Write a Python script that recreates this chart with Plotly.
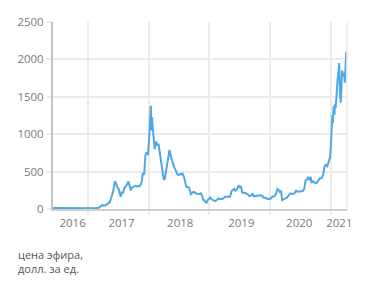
import plotly.graph_objects as go

dates = [
    "2016-06-05", "2016-07-15", "2016-08-20", "2016-09-25", "2016-10-30", "2016-12-05",
    "2017-01-10", "2017-02-10", "2017-03-08", "2017-03-16", "2017-03-25", "2017-04-15",
    "2017-04-30", "2017-05-12", "2017-05-25", "2017-06-02", "2017-06-12", "2017-06-20",
    "2017-06-28", "2017-07-05", "2017-07-12", "2017-07-17", "2017-07-24", "2017-07-31",
    "2017-08-08", "2017-08-15", "2017-08-25", "2017-09-01", "2017-09-08", "2017-09-15",
    "2017-09-22", "2017-10-01", "2017-10-12", "2017-10-20", "2017-11-01", "2017-11-10",
    "2017-11-20", "2017-11-27", "2017-12-05", "2017-12-12", "2017-12-20", "2017-12-28",
    "2018-01-04", "2018-01-10", "2018-01-14", "2018-01-17", "2018-01-21", "2018-01-26",
    "2018-02-02", "2018-02-06", "2018-02-14", "2018-02-22", "2018-03-01", "2018-03-08",
    "2018-03-15", "2018-03-22", "2018-03-29", "2018-04-03", "2018-04-08", "2018-04-15",
    "2018-04-22", "2018-04-28", "2018-05-06", "2018-05-12", "2018-05-20", "2018-05-26",
    "2018-06-03", "2018-06-10", "2018-06-17", "2018-06-24", "2018-07-01", "2018-07-10",
    "2018-07-17", "2018-07-24", "2018-08-01", "2018-08-08", "2018-08-15", "2018-08-22",
    "2018-08-29", "2018-09-05", "2018-09-12", "2018-09-19", "2018-09-26", "2018-10-03",
    "2018-10-10", "2018-10-20", "2018-11-01", "2018-11-10", "2018-11-18", "2018-11-25",
    "2018-12-02", "2018-12-09", "2018-12-15", "2018-12-22", "2018-12-29", "2019-01-06",
    "2019-01-13", "2019-01-20", "2019-01-27", "2019-02-05", "2019-02-15", "2019-02-25",
    "2019-03-05", "2019-03-15", "2019-03-25", "2019-04-05", "2019-04-15", "2019-04-25",
    "2019-05-05", "2019-05-15", "2019-05-22", "2019-05-30", "2019-06-06", "2019-06-14",
    "2019-06-22", "2019-06-27", "2019-07-03", "2019-07-10", "2019-07-17", "2019-07-24",
    "2019-08-01", "2019-08-10", "2019-08-20", "2019-08-30", "2019-09-08", "2019-09-18",
    "2019-09-25", "2019-10-05", "2019-10-15", "2019-10-25", "2019-11-05", "2019-11-15",
    "2019-11-22", "2019-12-01", "2019-12-10", "2019-12-18", "2019-12-28", "2020-01-05",
    "2020-01-15", "2020-01-25", "2020-02-05", "2020-02-14", "2020-02-20", "2020-02-28",
    "2020-03-07", "2020-03-13", "2020-03-20", "2020-03-27", "2020-04-05", "2020-04-15",
    "2020-04-25", "2020-05-05", "2020-05-15", "2020-05-25", "2020-06-05", "2020-06-15",
    "2020-06-25", "2020-07-05", "2020-07-15", "2020-07-24", "2020-08-01", "2020-08-10",
    "2020-08-17", "2020-08-25", "2020-09-01", "2020-09-05", "2020-09-15", "2020-09-25",
    "2020-10-05", "2020-10-15", "2020-10-25", "2020-11-05", "2020-11-15", "2020-11-22",
    "2020-11-29", "2020-12-10", "2020-12-20", "2020-12-27", "2021-01-03", "2021-01-09",
    "2021-01-12", "2021-01-17", "2021-01-22", "2021-01-25", "2021-01-29", "2021-02-04",
    "2021-02-10", "2021-02-14", "2021-02-19", "2021-02-23", "2021-02-26", "2021-02-28",
    "2021-03-04", "2021-03-08", "2021-03-12", "2021-03-16", "2021-03-20", "2021-03-25",
    "2021-03-30", "2021-04-02", "2021-04-07",
]

prices = [
    13, 12, 11, 12, 11, 8,
    9, 11, 16, 35, 50, 48,
    75, 90, 180, 240, 370, 340,
    280, 270, 200, 165, 230, 210,
    280, 300, 330, 370, 310, 250,
    285, 300, 310, 300, 300, 310,
    360, 480, 460, 720, 760, 720,
    950, 1200, 1380, 1050, 1230, 1080,
    900, 800, 900, 850, 870, 760,
    600, 540, 450, 390, 400, 500,
    620, 690, 790, 720, 650, 610,
    560, 530, 490, 460, 455, 470,
    460, 470, 430, 370, 300, 290,
    290, 260, 200, 210, 230, 225,
    210, 205, 200, 210, 175, 120,
    115, 90, 85, 120, 140, 155,
    130, 120, 110, 105, 120, 140,
    130, 135, 140, 165, 165, 160,
    165, 240, 250, 270, 245, 260,
    300, 310, 290, 300, 220, 215,
    220, 210, 195, 170, 180, 210,
    170, 175, 180, 180, 185, 180,
    150, 150, 145, 130, 130, 140,
    165, 170, 200, 270, 260, 225,
    235, 120, 130, 135, 145, 160,
    195, 210, 200, 205, 245, 230,
    230, 235, 240, 270, 380, 395,
    430, 385, 430, 350, 370, 350,
    345, 375, 410, 410, 460, 560,
    590, 570, 640, 700, 980, 1260,
    1150, 1380, 1260, 1400, 1350, 1650,
    1750, 1820, 1950, 1600, 1450, 1420,
    1580, 1850, 1820, 1800, 1810, 1690,
    1900, 2090, 2090,
]

year_label_pos = ["2016-10-01", "2017-07-22", "2018-07-10", "2019-07-12", "2020-06-24", "2021-02-20"]
year_labels = ["2016", "2017", "2018", "2019", "2020", "2021"]
y_ticks = [0, 500, 1000, 1500, 2000, 2500]

grid = "#ebebeb"
txt = "#7a7a7a"
font_family = "Open Sans, Lato, sans-serif"

fig = go.Figure(go.Scatter(
    x=dates, y=prices, mode="lines",
    line=dict(color="#4ea8e4", width=2),
    hoverinfo="skip",
))

fig.update_layout(
    width=371, height=288,
    margin=dict(l=53, r=24, t=22, b=79),
    paper_bgcolor="white", plot_bgcolor="white",
    showlegend=False,
    font=dict(family=font_family, color=txt, size=11),
    xaxis=dict(
        type="date",
        range=["2016-06-05", "2021-04-07"],
        tickvals=year_label_pos, ticktext=year_labels,
        showgrid=False, ticks="outside", ticklen=2, tickcolor="rgba(0,0,0,0)",
        tickfont=dict(size=11.5, color=txt),
        showline=True, linecolor="#cfcfcf", linewidth=2,
        minor=dict(dtick="M12", tick0="2016-01-01", showgrid=True, gridcolor=grid,
                   gridwidth=1.5, ticks="outside", ticklen=4, tickcolor=grid, tickwidth=1.5),
        zeroline=False, fixedrange=True,
    ),
    yaxis=dict(
        range=[0, 2500], tickvals=y_ticks,
        showgrid=True, gridcolor=grid, gridwidth=1.5,
        ticks="outside", ticklen=5, tickcolor=grid, tickwidth=1.5,
        tickfont=dict(size=11.5, color=txt),
        showline=True, linecolor="#c4c4c4", linewidth=2,
        zeroline=False, fixedrange=True,
    ),
    shapes=[dict(type="line", xref="paper", yref="paper", x0=1, x1=1, y0=0, y1=1,
                 line=dict(color=grid, width=1.5))],
    annotations=[dict(
        text="цена эфира,<br>долл. за ед.", xref="paper", yref="paper",
        x=-0.127, y=-0.19, xanchor="left", yanchor="top", align="left",
        showarrow=False, font=dict(size=11, color="#555555", family=font_family),
    )],
)

fig.write_html("out.html")
